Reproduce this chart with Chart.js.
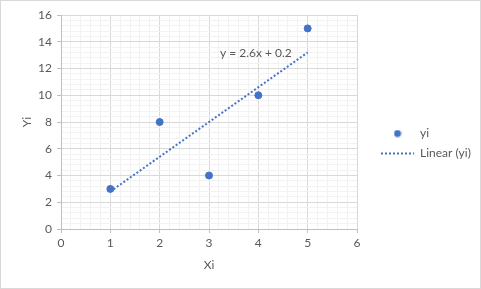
<!DOCTYPE html>
<html>
<head>
<meta charset="utf-8">
<script src="https://cdn.jsdelivr.net/npm/chart.js@4/dist/chart.umd.min.js"></script>
<style>
  body { margin: 0; background: #fff; }
  #wrap { position: relative; width: 481px; height: 289px; }
  #frame { position: absolute; left: 0; top: 0; width: 481px; height: 289px; box-sizing: border-box; border: 1px solid #d9d9d9; pointer-events: none; }
</style>
</head>
<body>
<div id="wrap">
  <canvas id="myChart" width="481" height="289"></canvas>
  <div id="frame"></div>
</div>
<script>
// ====== data ======
const xValues = [1, 2, 3, 4, 5];
const yValues = [3, 8, 4, 10, 15];
// trendline end points (y = 2.6x + 0.2)
const trendX = [1, 5];
const trendY = [2.8, 13.2];
const trendLabel = "y = 2.6x + 0.2";
const trendLabelAt = [3.95, 13.15];
const legendNames = ["yi", "Linear (yi)"];

const blue = "#4472C4";
const textGray = "#595959";
const fontFam = "Lato, 'Liberation Sans', sans-serif";

const isWhole = (v, step) => Math.abs(v / step - Math.round(v / step)) < 1e-6;

// small dot for the legend
const dot = document.createElement("canvas");
dot.width = 8;
dot.height = 8;
const dctx = dot.getContext("2d");
dctx.fillStyle = blue;
dctx.beginPath();
dctx.arc(4, 4, 3.5, 0, Math.PI * 2);
dctx.fill();

// trendline equation text
const eqLabel = {
  id: "eqLabel",
  afterDatasetsDraw(chart) {
    const c = chart.ctx;
    const x = chart.scales.x.getPixelForValue(trendLabelAt[0]);
    const y = chart.scales.y.getPixelForValue(trendLabelAt[1]);
    c.save();
    c.font = "12px " + fontFam;
    c.fillStyle = textGray;
    c.textAlign = "center";
    c.textBaseline = "middle";
    c.fillText(trendLabel, x, y);
    c.restore();
  },
};

// legend sits a bit right of the plot area and a bit higher
const legendShift = {
  id: "legendShift",
  afterLayout(chart) {
    chart.legend.left += 16;
    chart.legend.top -= 8.5;
    chart.legend.bottom -= 8.5;
  },
};

let ctx = document.getElementById("myChart").getContext("2d");
let graphie = new Chart(ctx, {
  type: "scatter",
  data: {
    datasets: [
      {
        label: legendNames[0],
        data: xValues.map((x, i) => ({ x: x, y: yValues[i] })),
        backgroundColor: blue,
        borderColor: blue,
        pointRadius: 3.5,
        pointHoverRadius: 3.5,
        order: 0,
      },
      {
        label: legendNames[1],
        type: "line",
        data: trendX.map((x, i) => ({ x: x, y: trendY[i] })),
        borderColor: blue,
        borderWidth: 2,
        borderDash: [2, 2],
        pointRadius: 0,
        fill: false,
        order: 1,
      },
    ],
  },
  options: {
    responsive: false,
    animation: false,
    layout: { padding: { top: 15, left: 0, right: 0, bottom: 0 } },
    plugins: {
      tooltip: { enabled: false },
      legend: {
        position: "right",
        labels: {
          usePointStyle: true,
          pointStyleWidth: 33,
          padding: 8,
          color: textGray,
          font: { family: fontFam, size: 12 },
          generateLabels: () => [
            { text: legendNames[0], pointStyle: dot, fillStyle: blue, strokeStyle: blue, lineWidth: 0, datasetIndex: 0, fontColor: textGray },
            { text: legendNames[1], pointStyle: "line", fillStyle: blue, strokeStyle: blue, lineWidth: 2, lineDash: [2, 2], datasetIndex: 1, fontColor: textGray },
          ],
        },
      },
    },
    scales: {
      x: {
        type: "linear",
        min: 0,
        max: 6,
        afterFit: (s) => { s.height = 60; },
        ticks: {
          stepSize: 0.2,
          autoSkip: false,
          maxRotation: 0,
          padding: 3,
          color: textGray,
          font: { family: fontFam, size: 12 },
          callback: (v) => (isWhole(v, 1) ? Math.round(v) : ""),
        },
        grid: {
          color: (c) => (c.tick && isWhole(c.tick.value, 1) ? "#d9d9d9" : "#f2f2f2"),
          tickColor: (c) => (c.tick && isWhole(c.tick.value, 1) ? "#bfbfbf" : "rgba(0,0,0,0)"),
          tickLength: 4,
        },
        border: { color: "#bfbfbf" },
        title: {
          display: true,
          text: "Xi",
          color: textGray,
          font: { family: fontFam, size: 12 },
          padding: { top: 0, bottom: 17 },
        },
      },
      y: {
        type: "linear",
        min: 0,
        max: 16,
        afterFit: (s) => { s.width = 61; },
        ticks: {
          stepSize: 0.4,
          autoSkip: false,
          padding: 5,
          color: textGray,
          font: { family: fontFam, size: 12 },
          callback: (v) => (isWhole(v, 2) ? Math.round(v) : ""),
        },
        grid: {
          color: (c) => (c.tick && isWhole(c.tick.value, 2) ? "#d9d9d9" : "#f2f2f2"),
          tickColor: (c) => (c.tick && isWhole(c.tick.value, 2) ? "#bfbfbf" : "rgba(0,0,0,0)"),
          tickLength: 4,
        },
        border: { color: "#bfbfbf" },
        title: {
          display: true,
          text: "Yi",
          color: textGray,
          font: { family: fontFam, size: 12 },
          padding: { top: 20, bottom: 0 },
        },
      },
    },
  },
  plugins: [eqLabel, legendShift],
});

// fixed legend width so the plot ends where the reference does
graphie.legend.fit = (function (orig) {
  return function () {
    orig.call(this);
    this.width = 124;
  };
})(graphie.legend.fit);
graphie.update();
</script>
</body>
</html>
